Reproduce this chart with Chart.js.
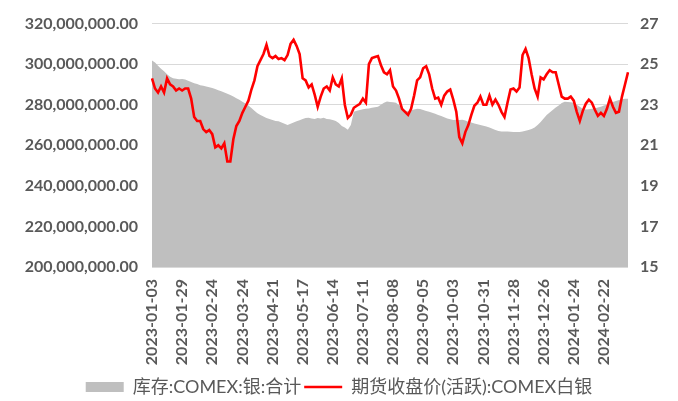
<!DOCTYPE html>
<html>
<head>
<meta charset="utf-8">
<script src="https://cdn.jsdelivr.net/npm/chart.js@4/dist/chart.umd.min.js"></script>
<style>
  html, body { margin: 0; padding: 0; background: #fff; }
  #wrap { width: 678px; height: 401px; }
</style>
</head>
<body>
<div id="wrap"><canvas id="chart"></canvas></div>
<script>
// x axis tick labels, one every 10 samples
const tickLabels = [
    '2023-01-03', '2023-01-29', '2023-02-24', '2023-03-24', '2023-04-21', '2023-05-17',
    '2023-06-14', '2023-07-11', '2023-08-08', '2023-09-05', '2023-10-03', '2023-10-31',
    '2023-11-28', '2023-12-26', '2024-01-24', '2024-02-22'
];
const samplesPerTick = 10;

// 库存:COMEX:银:合计, millions of oz
const stockMillions = [
    301.8, 300.8, 299.2, 297.8, 296.5, 295, 293.8, 293, 292.8, 292.6,
    292.7, 292.4, 291.8, 291.2, 290.6, 290.2, 289.6, 289.4, 289, 288.6,
    288.2, 287.8, 287.2, 286.6, 286, 285.4, 284.8, 284, 283.2, 282.4,
    281.5, 280.6, 279.6, 278.4, 277, 275.8, 275, 274.2, 273.5, 273,
    272.5, 272, 271.8, 271.2, 270.6, 270, 270.6, 271.2, 271.8, 272.4,
    273, 273.4, 273.6, 273.2, 273, 273.4, 273.2, 273.6, 273, 272.8,
    272.5, 272, 271, 269.5, 268.8, 267.7, 270, 276.6, 277, 277.4,
    277.8, 278, 278.2, 278.5, 278.8, 279, 280, 281, 281.6, 281.4,
    281.2, 281, 279.8, 278.4, 277, 276.8, 277.2, 277.6, 278, 277.9,
    277.4, 276.9, 276.6, 276, 275.5, 275, 274.4, 273.8, 273.2, 272.8,
    272.5, 272.6, 272.5, 272.6, 272.2, 271.6, 271.2, 270.8, 270.4, 270,
    269.6, 269.3, 268.8, 268.2, 267.6, 267, 266.8, 266.8, 266.8, 266.7,
    266.6, 266.5, 266.5, 266.8, 267.2, 267.6, 268, 268.8, 270, 271.5,
    273.2, 275, 276.2, 277.4, 278.6, 279.6, 280.8, 281.5, 281.4, 281.2,
    281, 280, 279, 277.9, 277.6, 277.8, 278, 278.2, 278.6, 279,
    279.6, 280, 280.6, 281.3, 281.8, 282.3, 282.7, 283, 283
];

// 期货收盘价(活跃):COMEX白银
const priceValues = [
    24.3, 23.8, 23.6, 23.9, 23.6, 24.3, 24.0, 23.9, 23.7, 23.8,
    23.7, 23.8, 23.8, 23.3, 22.4, 22.2, 22.2, 21.8, 21.65, 21.75,
    21.55, 20.9, 21.0, 20.85, 21.1, 20.2, 20.2, 21.3, 21.95, 22.2,
    22.6, 22.9, 23.2, 23.75, 24.2, 24.9, 25.2, 25.5, 25.95, 25.4,
    25.3, 25.4, 25.25, 25.3, 25.2, 25.45, 26.0, 26.2, 25.9, 25.5,
    24.3, 24.2, 23.85, 24.0, 23.5, 22.9, 23.4, 23.8, 23.9, 23.7,
    24.35, 24.0, 23.9, 24.3, 23.0, 22.35, 22.5, 22.85, 22.95, 23.05,
    23.3, 23.1, 25.0, 25.3, 25.35, 25.4, 24.95, 24.6, 24.5, 24.7,
    23.9, 23.7, 23.3, 22.8, 22.65, 22.5, 22.8, 23.45, 24.2, 24.35,
    24.8, 24.9, 24.5, 23.8, 23.3, 23.35, 23.0, 23.45, 23.65, 23.75,
    23.25, 22.66, 21.4, 21.1, 21.65, 22.0, 22.5, 22.95, 23.1, 23.4,
    23.0, 23.0, 23.45, 23.0, 23.25, 23.0, 22.65, 22.4, 23.1, 23.75,
    23.8, 23.65, 23.85, 25.45, 25.75, 25.3, 24.5, 23.8, 23.4, 24.35,
    24.25, 24.5, 24.7, 24.6, 24.6, 24.0, 23.4, 23.3, 23.3, 23.4,
    23.2, 22.65, 22.2, 22.7, 23.05, 23.25, 23.1, 22.75, 22.45, 22.6,
    22.45, 22.8, 23.3, 22.9, 22.6, 22.65, 23.4, 24.0, 24.6
];

const stockValues = stockMillions.map(v => v * 1000000);
const labels = stockValues.map((v, i) => i % samplesPerTick === 0 ? (tickLabels[i / samplesPerTick] || '') : '');

const textColor = '#595959';
const tickFont = { family: 'Lato, "Open Sans", sans-serif', size: 16, weight: 'bold' };

// push legend a bit lower, like the original
const legendShift = {
    id: 'legendShift',
    afterLayout(chart) {
        chart.legend.top += 5;
        chart.legend.bottom += 5;
    }
};

new Chart(document.getElementById('chart'), {
    type: 'line',
    data: {
        labels: labels,
        datasets: [{
            label: '库存:COMEX:银:合计',
            data: stockValues,
            yAxisID: 'y',
            fill: 'start',
            backgroundColor: '#bfbfbf',
            borderColor: '#bfbfbf',
            borderWidth: 0,
            pointRadius: 0,
            pointStyle: 'rect',
            order: 2
        }, {
            label: '期货收盘价(活跃):COMEX白银',
            data: priceValues,
            yAxisID: 'y1',
            fill: false,
            borderColor: '#ff0000',
            backgroundColor: '#ff0000',
            borderWidth: 2.6,
            pointRadius: 0,
            pointStyle: 'line',
            order: 1
        }]
    },
    options: {
        responsive: true,
        maintainAspectRatio: false,
        animation: false,
        layout: { padding: { top: 21, left: 0, right: 0, bottom: 0 } },
        plugins: {
            tooltip: { enabled: false },
            legend: {
                position: 'bottom',
                labels: {
                    usePointStyle: true,
                    pointStyleWidth: 38,
                    boxHeight: 10,
                    padding: 3,
                    color: textColor,
                    font: { family: 'Lato, "Noto Sans CJK SC", sans-serif', size: 18 },
                    sort: (a, b) => a.datasetIndex - b.datasetIndex
                }
            }
        },
        scales: {
            x: {
                grid: { display: false, drawTicks: false },
                border: { display: false },
                ticks: {
                    autoSkip: false,
                    minRotation: 90,
                    maxRotation: 90,
                    padding: 12,
                    color: textColor,
                    font: tickFont
                },
                afterFit(scale) { scale.height = 103; }
            },
            y: {
                position: 'left',
                min: 200000000,
                max: 320000000,
                grid: { color: '#d9d9d9', drawTicks: false },
                border: { display: false },
                ticks: {
                    stepSize: 20000000,
                    padding: 14,
                    color: textColor,
                    font: tickFont,
                    callback: function(value) {
                        return value.toLocaleString('en-US', { minimumFractionDigits: 2, maximumFractionDigits: 2 });
                    }
                },
                afterFit(scale) { scale.width = 152; }
            },
            y1: {
                position: 'right',
                min: 15,
                max: 27,
                grid: { drawOnChartArea: false, drawTicks: false },
                border: { display: false },
                ticks: {
                    stepSize: 2,
                    padding: 12,
                    color: textColor,
                    font: tickFont
                },
                afterFit(scale) { scale.width = 50; }
            }
        }
    },
    plugins: [legendShift]
});
</script>
</body>
</html>
